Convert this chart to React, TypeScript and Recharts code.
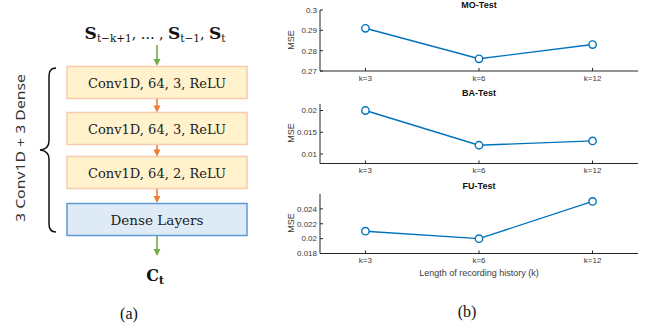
import { Line, LineChart, XAxis, YAxis } from "recharts";

// recording history lengths and the MSE
const kLabels = ["k=3", "k=6", "k=12"];
const kPos = [1, 2, 3];
const moMse = [0.291, 0.276, 0.283];
const baMse = [0.02, 0.012, 0.013];
const fuMse = [0.021, 0.02, 0.025];

const moTicks = [0.27, 0.28, 0.29, 0.3];
const baTicks = [0.01, 0.015, 0.02];
const fuTicks = [0.018, 0.02, 0.022, 0.024];

const layers = ["Conv1D, 64, 3, ReLU", "Conv1D, 64, 3, ReLU", "Conv1D, 64, 2, ReLU"];

const BLUE = "#0072BD";
const AXIS = "#262626";
const TXT = "#3a3a3a";
const SANS = "'Liberation Sans', Arial, sans-serif";
const SERIF = "'DejaVu Serif', serif";
const PAD = 6;

function OpenCircle(props: any) {
  const { cx, cy } = props;
  if (cx == null || cy == null) return null;
  return <circle cx={cx} cy={cy} r={3.7} fill="#fff" stroke={BLUE} strokeWidth={1.4} />;
}

function Panel({
  title,
  titleTop,
  values,
  ticks,
  domain,
  top,
  plotH,
}: {
  title: string;
  titleTop: number;
  values: number[];
  ticks: number[];
  domain: [number, number];
  top: number;
  plotH: number;
}) {
  const data = kPos.map((k, i) => ({ k, mse: values[i] }));
  const tickStyle = { fill: TXT, fontSize: 8, fontFamily: SANS };
  return (
    <>
      <div style={{ position: "absolute", left: 270, top: top - PAD }}>
        <LineChart
          width={378}
          height={plotH + 20 + PAD}
          data={data}
          margin={{ top: PAD, right: 10, bottom: 0, left: 0 }}
        >
          <XAxis
            dataKey="k"
            type="number"
            domain={[0.6, 3.4]}
            ticks={kPos}
            allowDataOverflow
            tickFormatter={(v) => kLabels[v - 1]}
            tick={tickStyle}
            tickSize={-3}
            tickMargin={7}
            height={20}
            stroke={AXIS}
            interval={0}
          />
          <XAxis
            xAxisId="top"
            orientation="top"
            dataKey="k"
            type="number"
            domain={[0.6, 3.4]}
            ticks={kPos}
            allowDataOverflow
            tick={false}
            tickSize={-3}
            height={0}
            stroke={AXIS}
          />
          <YAxis
            type="number"
            domain={domain}
            ticks={ticks}
            allowDataOverflow
            tickFormatter={(v) => String(v)}
            tick={tickStyle}
            tickSize={-3}
            tickMargin={6}
            width={50}
            stroke={AXIS}
            interval={0}
          />
          <YAxis
            yAxisId="right"
            orientation="right"
            type="number"
            domain={domain}
            ticks={ticks}
            allowDataOverflow
            tick={false}
            tickSize={-3}
            width={0}
            stroke={AXIS}
          />
          <Line
            dataKey="mse"
            stroke={BLUE}
            strokeWidth={1.4}
            dot={<OpenCircle />}
            isAnimationActive={false}
          />
        </LineChart>
      </div>
      <div
        style={{
          position: "absolute",
          left: 270,
          width: 418,
          top: titleTop,
          textAlign: "center",
          font: `bold 9px ${SANS}`,
          color: "#111",
        }}
      >
        {title}
      </div>
      <div
        style={{
          position: "absolute",
          left: 291,
          top: top + plotH / 2,
          transform: "translate(-50%, -50%) rotate(-90deg)",
          font: `9px ${SANS}`,
          color: TXT,
        }}
      >
        MSE
      </div>
    </>
  );
}

function Arrow({ y1, y2, color }: { y1: number; y2: number; color: string }) {
  const x = 157;
  return (
    <g>
      <line x1={x} y1={y1} x2={x} y2={y2 - 6} stroke={color} strokeWidth={1.6} />
      <polygon points={`${x - 3.5},${y2 - 7} ${x + 3.5},${y2 - 7} ${x},${y2}`} fill={color} />
    </g>
  );
}

function Diagram() {
  const boxTops = [66.5, 112.5, 156.5];
  return (
    <svg width={270} height={333} style={{ position: "absolute", left: 0, top: 0 }}>
      <text x={155} y={39} textAnchor="middle" fontFamily={SERIF} fill="#111">
        <tspan fontWeight="bold" fontSize={17}>S</tspan>
        <tspan fontSize={10.5} dy={3}>t−k+1</tspan>
        <tspan fontSize={14} dy={-3}>, … , </tspan>
        <tspan fontWeight="bold" fontSize={17}>S</tspan>
        <tspan fontSize={10.5} dy={3}>t−1</tspan>
        <tspan fontSize={14} dy={-3}>, </tspan>
        <tspan fontWeight="bold" fontSize={17}>S</tspan>
        <tspan fontSize={10.5} dy={3}>t</tspan>
      </text>
      <Arrow y1={45} y2={66} color="#70AD47" />
      {layers.map((l, i) => (
        <g key={i}>
          <rect
            x={67}
            y={boxTops[i]}
            width={180}
            height={32}
            fill="#FFF2CC"
            stroke="#F8CBAD"
            strokeWidth={1.5}
          />
          <text
            x={157}
            y={boxTops[i] + 21}
            textAnchor="middle"
            fontFamily={SERIF}
            fontSize={13}
            fill="#222"
            textLength={138}
            lengthAdjust="spacingAndGlyphs"
          >
            {l}
          </text>
        </g>
      ))}
      <Arrow y1={99} y2={112.5} color="#ED7D31" />
      <Arrow y1={145} y2={156.5} color="#ED7D31" />
      <Arrow y1={189} y2={203} color="#ED7D31" />
      <rect x={67} y={203.5} width={180} height={32} fill="#DEEBF7" stroke="#5B9BD5" strokeWidth={1.5} />
      <text
        x={157}
        y={224.5}
        textAnchor="middle"
        fontFamily={SERIF}
        fontSize={13}
        fill="#222"
        textLength={93}
        lengthAdjust="spacingAndGlyphs"
      >
        Dense Layers
      </text>
      <Arrow y1={236} y2={256} color="#70AD47" />
      <text x={155} y={281} textAnchor="middle" fontFamily={SERIF} fill="#111">
        <tspan fontWeight="bold" fontSize={16}>C</tspan>
        <tspan fontWeight="bold" fontSize={10.5} dy={3}>t</tspan>
      </text>
      <path
        d="M 56 68 Q 49 68 49 76 L 49 141 Q 49 149 40 150 Q 49 151 49 159 L 49 224 Q 49 232 56 232"
        fill="none"
        stroke="#111"
        strokeWidth={1.5}
      />
      <text
        transform="translate(25 148) rotate(-90)"
        textAnchor="middle"
        fontFamily="'Noto Sans', sans-serif"
        fontSize={13}
        fill="#333"
        textLength={148}
        lengthAdjust="spacingAndGlyphs"
      >
        3 Conv1D + 3 Dense
      </text>
      <text x={129} y={319} textAnchor="middle" fontFamily="'Liberation Serif', serif" fontSize={16} fill="#111">
        (a)
      </text>
    </svg>
  );
}

export default function App() {
  return (
    <div
      style={{
        position: "absolute",
        left: 0,
        top: 0,
        width: 648,
        height: 333,
        background: "#fff",
        overflow: "hidden",
      }}
    >
      <Diagram />
      <Panel title="MO-Test" titleTop={0} values={moMse} ticks={moTicks} domain={[0.27, 0.3]} top={9.5} plotH={61} />
      <Panel title="BA-Test" titleTop={88} values={baMse} ticks={baTicks} domain={[0.0078, 0.0215]} top={103.5} plotH={59.5} />
      <Panel title="FU-Test" titleTop={180.5} values={fuMse} ticks={fuTicks} domain={[0.018, 0.026]} top={193.5} plotH={59.5} />
      <div
        style={{
          position: "absolute",
          left: 270,
          width: 418,
          top: 268,
          textAlign: "center",
          font: `9px ${SANS}`,
          color: TXT,
        }}
      >
        Length of recording history (k)
      </div>
      <div
        style={{
          position: "absolute",
          left: 467,
          top: 303,
          transform: "translateX(-50%)",
          font: `16px 'Liberation Serif', serif`,
          color: "#111",
        }}
      >
        (b)
      </div>
    </div>
  );
}
